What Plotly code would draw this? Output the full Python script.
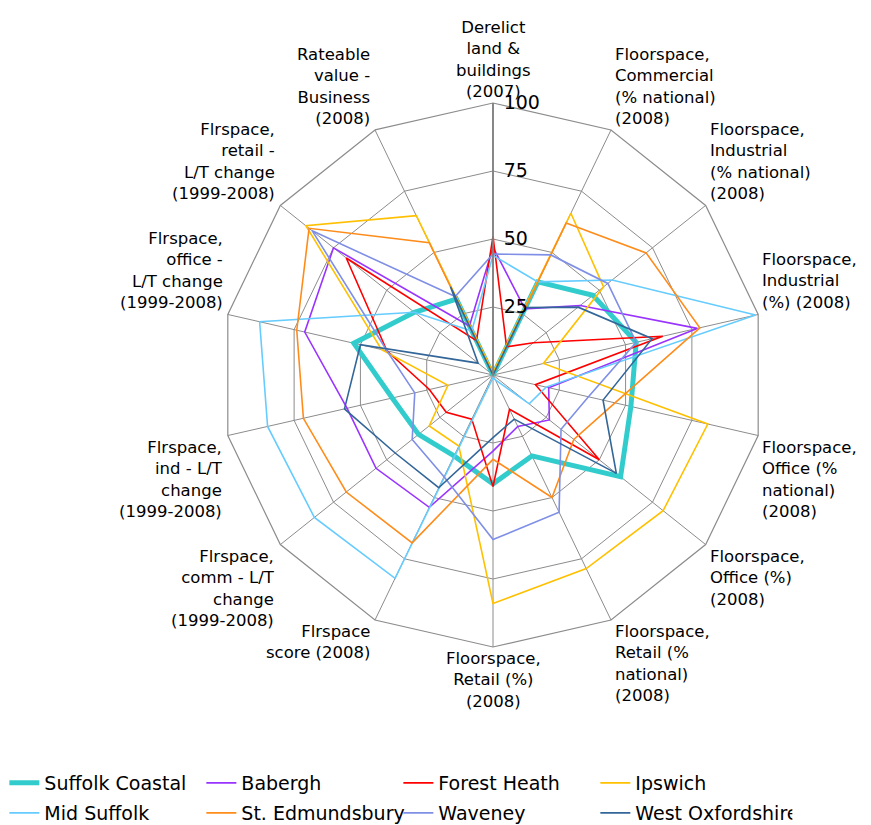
import math
import plotly.graph_objects as go

# Indicator axes (clockwise from the top)
indicators = [
    "Derelict<br>land &<br>buildings<br>(2007)",
    "Floorspace,<br>Commercial<br>(% national)<br>(2008)",
    "Floorspace,<br>Industrial<br>(% national)<br>(2008)",
    "Floorspace,<br>Industrial<br>(%) (2008)",
    "Floorspace,<br>Office (%<br>national)<br>(2008)",
    "Floorspace,<br>Office (%)<br>(2008)",
    "Floorspace,<br>Retail (%<br>national)<br>(2008)",
    "Floorspace,<br>Retail (%)<br>(2008)",
    "Flrspace<br>score (2008)",
    "Flrspace,<br>comm - L/T<br>change<br>(1999-2008)",
    "Flrspace,<br>ind - L/T<br>change<br>(1999-2008)",
    "Flrspace,<br>office -<br>L/T change<br>(1999-2008)",
    "Flrspace,<br>retail -<br>L/T change<br>(1999-2008)",
    "Rateable<br>value -<br>Business<br>(2008)",
]
radial_ticks = [25, 50, 75, 100]

# Scores per district (0-100), same order as the indicators
suffolk_coastal = [0, 38, 47, 54, 52, 60, 33, 40, 33, 35, 38, 52.5, 37, 31]
babergh = [47, 27, 41, 77, 21, 26.5, 21, 28, 54, 55, 55, 71, 75, 20]
forest_heath = [51, 11.5, 19, 64, 16, 50, 14, 41, 18, 22, 24, 40, 69, 14]
ipswich = [1, 66, 52, 19, 81, 80, 79, 84, 29, 30, 17, 42, 88, 65]
mid_suffolk = [44, 38, 56, 99, 20, 17, 2, 1, 83, 84, 85, 88, 37, 18]
st_edmundsbury = [0, 62, 72, 78, 46, 38, 50, 31, 68.5, 69, 71.5, 74, 86.5, 54]
waveney = [44.5, 49, 54, 54, 36, 32, 56, 60.5, 41.5, 38, 29.5, 40, 85, 32]
west_oxfordshire = [0, 27.5, 40, 60, 41.5, 58, 18, 23, 46, 46, 56, 50, 7, 36]

series = [
    ("Suffolk Coastal", suffolk_coastal, "#33CCCC", 5, "legend"),
    ("Babergh", babergh, "#9933FF", 1.6, "legend"),
    ("Forest Heath", forest_heath, "#FF0000", 1.6, "legend"),
    ("Ipswich", ipswich, "#FFC000", 1.6, "legend"),
    ("Mid Suffolk", mid_suffolk, "#66CCFF", 1.6, "legend2"),
    ("St. Edmundsbury", st_edmundsbury, "#FF8C1A", 1.6, "legend2"),
    ("Waveney", waveney, "#7F8FE6", 1.6, "legend2"),
    ("West Oxfordshire", west_oxfordshire, "#336699", 1.6, "legend2"),
]

fig = go.Figure()
for name, vals, color, width, leg in series:
    fig.add_trace(go.Scatterpolar(
        r=vals + vals[:1],
        theta=indicators + indicators[:1],
        mode="lines",
        name=name,
        line=dict(color=color, width=width),
        legend=leg,
    ))

W, H = 871, 825
cx, cy, R = 493, 375, 272
font_family = "DejaVu Sans, Verdana, sans-serif"
label_size = 16.5

# Indicator names sit just outside each spoke tip, Excel-style:
# upper half above the tip, lower half below it.
n = len(indicators)
annotations = []
for k, text in enumerate(indicators):
    ang = math.radians(90 - 360.0 * k / n)
    vx = cx + R * math.cos(ang)
    vy = cy - R * math.sin(ang)
    if k == 0 or k == n // 2:
        xa, al, x = "center", "center", vx
    elif k < n // 2:
        xa, al, x = "left", "left", vx + 2
    else:
        xa, al, x = "right", "right", vx - 3
    ya = "bottom" if math.sin(ang) > 1e-9 else "top"
    annotations.append(dict(
        text=text, x=x / W, y=1 - vy / H, xref="paper", yref="paper",
        xanchor=xa, yanchor=ya, align=al, showarrow=False,
        font=dict(size=label_size, family=font_family, color="#000000"),
    ))

legend_common = dict(
    orientation="h",
    x=0.005, xanchor="left", yanchor="middle",
    entrywidth=152, entrywidthmode="pixels",
    font=dict(size=19, family=font_family, color="#000000"),
    bgcolor="rgba(0,0,0,0)",
)

fig.update_layout(
    width=W, height=H,
    margin=dict(l=0, r=0, t=0, b=0, autoexpand=False),
    paper_bgcolor="white",
    plot_bgcolor="white",
    font=dict(family=font_family, size=16, color="#000000"),
    annotations=annotations,
    polar=dict(
        domain=dict(x=[(cx - R) / W, (cx + R) / W],
                    y=[(H - cy - R) / H, (H - cy + R) / H]),
        bgcolor="white",
        gridshape="linear",
        angularaxis=dict(
            rotation=90,
            direction="clockwise",
            type="category",
            categoryorder="array",
            categoryarray=indicators,
            showline=True,
            linecolor="#8c8c8c",
            linewidth=1.2,
            gridcolor="#8c8c8c",
            gridwidth=1.2,
            ticks="",
            showticklabels=False,
        ),
        radialaxis=dict(
            range=[0, 100],
            tickvals=radial_ticks,
            angle=90,
            side="clockwise",
            tickangle=90,
            showline=True,
            linecolor="#808080",
            linewidth=1.8,
            gridcolor="#8c8c8c",
            gridwidth=1.2,
            ticks="outside",
            ticklen=6,
            tickcolor="rgba(0,0,0,0)",
            tickfont=dict(size=19, family=font_family, color="#000000"),
        ),
    ),
    legend=dict(legend_common, y=(H - 783) / H),
    legend2=dict(legend_common, y=(H - 813) / H),
)

fig.write_html("out.html")
